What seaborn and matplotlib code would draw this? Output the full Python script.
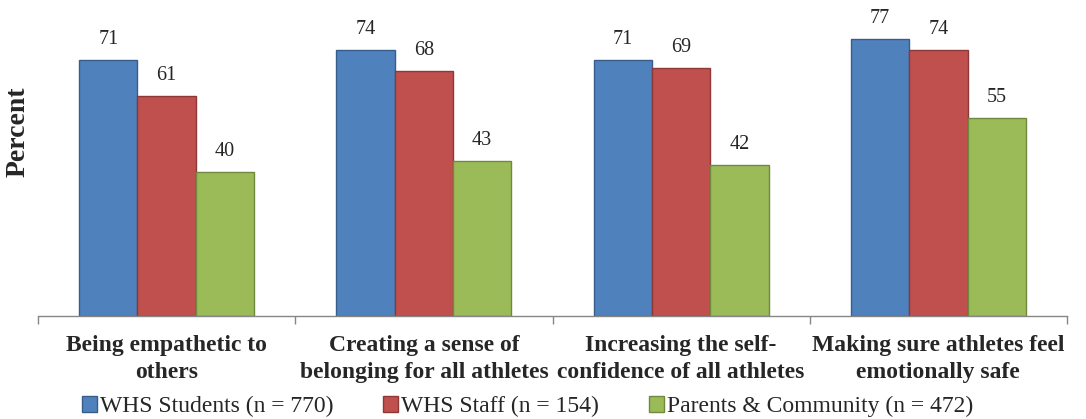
import matplotlib
matplotlib.use("Agg")
import matplotlib.pyplot as plt
from matplotlib.patches import Patch
import seaborn as sns
import pandas as pd

categories = [
    "Being empathetic to\nothers",
    "Creating a sense of\nbelonging for all athletes",
    "Increasing the self-\nconfidence of all athletes",
    "Making sure athletes feel\nemotionally safe",
]
groups = ["WHS Students (n = 770)", "WHS Staff (n = 154)", "Parents & Community (n = 472)"]
students = [71, 74, 71, 77]
staff = [61, 68, 69, 74]
parents = [40, 43, 42, 55]

fills = ["#4F81BD", "#C0504D", "#9BBB59"]
edges = ["#385D8A", "#8C3836", "#71893F"]

df = pd.DataFrame({
    "category": categories * 3,
    "group": [groups[0]] * 4 + [groups[1]] * 4 + [groups[2]] * 4,
    "value": students + staff + parents,
})

sns.set_style("white")
plt.rcParams["font.family"] = ["Liberation Serif", "DejaVu Serif"]

fig = plt.figure(figsize=(10.86, 4.19), dpi=100)
ax = fig.add_axes([38 / 1086, 103 / 419, 1029 / 1086, 316 / 419])

sns.barplot(data=df, x="category", y="value", hue="group", hue_order=groups,
            order=categories, palette=fills, width=0.68, ax=ax, legend=False,
            saturation=1)

for container, ec in zip(ax.containers, edges):
    for patch in container:
        patch.set_edgecolor(ec)
        patch.set_linewidth(1.0)
    ax.bar_label(container, fmt="%d", padding=8, fontsize=14.5)

ax.set_ylim(0, 87.8)
ax.set_xlim(-0.5, len(categories) - 0.5)
ax.set_yticks([])
ax.set_ylabel("")
ax.set_xlabel("")
fig.text(18 / 1086, 1 - 132 / 419, "Percent", rotation=90, ha="center",
         va="center", fontsize=20, fontweight="bold")

for side in ["left", "right", "top"]:
    ax.spines[side].set_visible(False)
ax.spines["bottom"].set_color("#868686")
ax.spines["bottom"].set_linewidth(1.0)

ax.set_xticks(range(len(categories)))
ax.set_xticklabels(categories, fontsize=17, fontweight="bold", linespacing=1.35)
ax.tick_params(axis="x", which="major", length=0, pad=14)
ax.set_xticks([i - 0.5 for i in range(len(categories) + 1)], minor=True)
ax.tick_params(axis="x", which="minor", length=6, width=1.0, color="#868686",
               direction="out", bottom=True)

handles = [Patch(facecolor=f, edgecolor=e, linewidth=1.0) for f, e in zip(fills, edges)]
fig.legend(handles, groups, loc="lower left", bbox_to_anchor=(82 / 1086, 0.004),
           ncol=3, frameon=False, fontsize=17, borderpad=0, borderaxespad=0,
           handlelength=0.62, handleheight=0.62, handletextpad=0.15,
           columnspacing=2.1)

fig.savefig("out.png", dpi=100)
